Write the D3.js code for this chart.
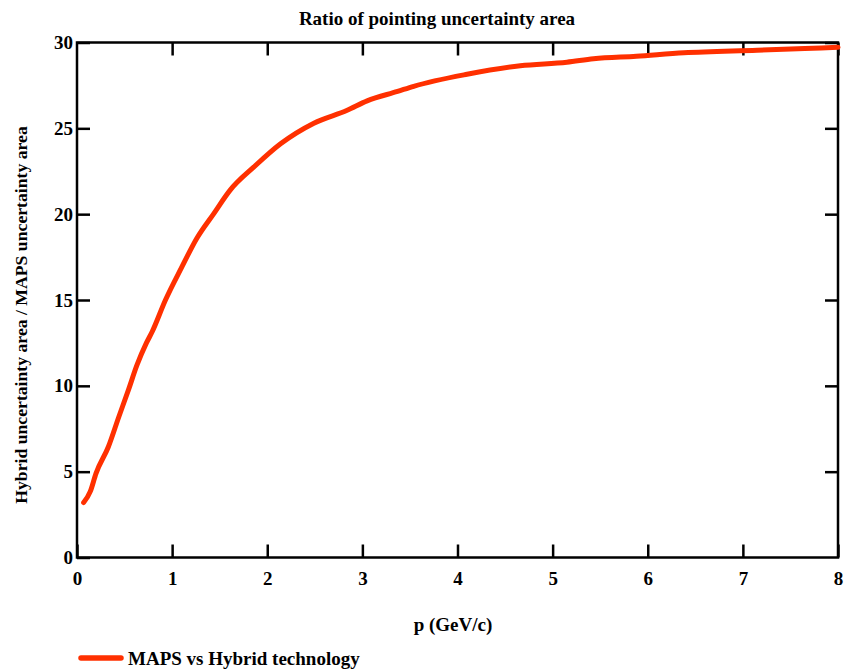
<!DOCTYPE html>
<html><head><meta charset="utf-8">
<script src="https://cdn.jsdelivr.net/npm/d3@7"></script>
<style>body{margin:0;background:#fff}svg{display:block}</style>
</head><body>
<svg id="c" width="845" height="671"></svg>
<script>
const pValues = [0.07, 0.14, 0.2, 0.33, 0.44, 0.54, 0.63, 0.73, 0.79, 0.93, 1.1, 1.26, 1.44, 1.61, 1.86, 2.14, 2.49, 2.84, 3.05, 3.37, 3.54, 4.1, 4.66, 5.15, 5.43, 5.88, 6.38, 7.15, 7.65, 8.0];
const ratioValues = [3.2, 3.85, 4.9, 6.45, 8.2, 9.75, 11.2, 12.5, 13.15, 15.0, 16.9, 18.6, 20.05, 21.4, 22.75, 24.1, 25.3, 26.05, 26.6, 27.15, 27.45, 28.15, 28.65, 28.85, 29.05, 29.2, 29.4, 29.55, 29.65, 29.72];
const xTicks = [0,1,2,3,4,5,6,7,8];
const yTicks = [0,5,10,15,20,25,30];
const title = "Ratio of pointing uncertainty area";
const xLabel = "p (GeV/c)";
const yLabel = "Hybrid uncertainty area / MAPS uncertainty area";
const seriesName = "MAPS vs Hybrid technology";

const FONT="'Liberation Serif', 'Times New Roman', Times, serif";
const L=77,R=838,T=42.5,B=557.5;
const svg=d3.select("#c");
const x=d3.scaleLinear().domain([0,8]).range([L,R]);
const y=d3.scaleLinear().domain([0,30]).range([B,T]);
const col="#ff3000";
const styleText=s=>s.style("font-family",FONT).style("font-weight","bold").style("fill","#000");

const tl=13;
svg.append("g").attr("transform",`translate(0,${B})`)
  .call(d3.axisBottom(x).tickValues(xTicks).tickSizeInner(-tl).tickSizeOuter(0).tickPadding(14).tickFormat(d3.format("d")))
  .call(g=>{g.select(".domain").remove();g.selectAll("text").style("font-size","19px").call(styleText);});
svg.append("g").attr("transform",`translate(0,${T})`)
  .call(d3.axisTop(x).tickValues(xTicks.slice(1)).tickSizeInner(-tl).tickSizeOuter(0).tickFormat(""))
  .call(g=>g.select(".domain").remove());
svg.append("g").attr("transform",`translate(${L},0)`)
  .call(d3.axisLeft(y).tickValues(yTicks).tickSizeInner(-tl).tickSizeOuter(0).tickPadding(4).tickFormat(d3.format("d")))
  .call(g=>{g.select(".domain").remove();g.selectAll("text").style("font-size","19px").call(styleText);});
svg.append("g").attr("transform",`translate(${R},0)`)
  .call(d3.axisRight(y).tickValues(yTicks.slice(1)).tickSizeInner(-tl).tickSizeOuter(0).tickFormat(""))
  .call(g=>g.select(".domain").remove());
svg.selectAll(".tick line").attr("stroke","#000").attr("stroke-width",2.5);

svg.append("rect").attr("x",L).attr("y",T).attr("width",R-L).attr("height",B-T)
  .attr("fill","none").attr("stroke","#000").attr("stroke-width",2.5);

const data=pValues.map((p,i)=>({p,r:ratioValues[i]}));
svg.append("path").datum(data)
  .attr("d",d3.line().x(d=>x(d.p)).y(d=>y(d.r)).curve(d3.curveMonotoneX))
  .attr("fill","none").attr("stroke",col).attr("stroke-width",5).attr("stroke-linecap","round").attr("stroke-linejoin","round");

svg.append("text").attr("x",437).attr("y",25).attr("text-anchor","middle").style("font-size","19px").call(styleText).text(title);
svg.append("text").attr("x",453).attr("y",631).attr("text-anchor","middle").style("font-size","19px").call(styleText).text(xLabel);
svg.append("text").attr("transform","translate(27,315) rotate(-90)").attr("text-anchor","middle").style("font-size","17.7px").call(styleText).text(yLabel);

svg.append("line").attr("x1",81).attr("x2",121).attr("y1",658).attr("y2",658)
  .attr("stroke",col).attr("stroke-width",5.5).attr("stroke-linecap","round");
svg.append("text").attr("x",128).attr("y",665).style("font-size","19px").call(styleText).text(seriesName);
</script>
</body></html>
